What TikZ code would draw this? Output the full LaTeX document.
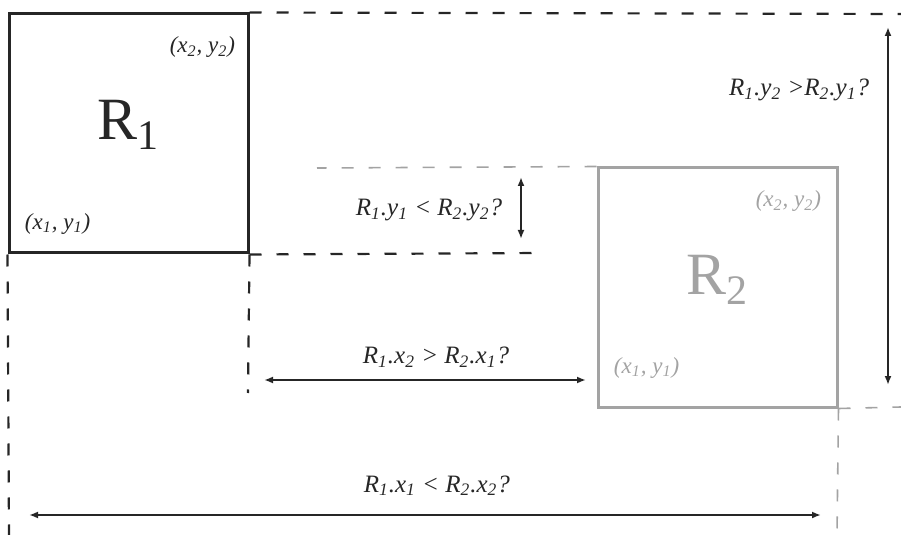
\documentclass[tikz,border=0pt]{standalone}
\usepackage{fontspec}
\setmainfont{Liberation Serif}
\usetikzlibrary{arrows.meta,positioning}
\definecolor{boxdark}{gray}{0.15}
\definecolor{boxlight}{gray}{0.64}
\newcommand\idx[1]{\textsubscript{#1}}
\begin{document}
\begin{tikzpicture}[x=0.5pt,y=-0.5pt,
    big/.style={inner sep=0pt,font=\fontsize{30}{32}\selectfont},
    corner/.style={inner sep=0pt,font=\fontsize{11.5}{13}\selectfont\itshape},
    cond/.style={inner sep=0pt,font=\fontsize{12.5}{14}\selectfont\itshape,text=boxdark},
    ext/.style={line width=1.1pt,dash pattern=on 6pt off 7.5pt},
    >={Latex[length=4.5pt,width=3.5pt]}]
  \useasboundingbox (0,0) rectangle (901,535);
  \begin{scope}[every node/.style={draw,line width=1.5pt,minimum size=119.5pt,inner sep=0pt}]
    \node[boxdark] (R1) at (128.5,133.5) {};
    \node[boxlight] (R2) at (717.5,287.5) {};
  \end{scope}
  \node[big,text=boxdark] (N1) at ([yshift=4.25pt]R1.center) {R\idx{1}};
  \node[big,text=boxlight] (N2) at ([yshift=3.75pt]R2.center) {R\idx{2}};
  \node[corner,text=boxdark] (P12) [below left=12pt and 7pt of R1.north east] {(x\idx{2}, y\idx{2})};
  \node[corner,text=boxdark] (P11) [above right=10pt and 8.5pt of R1.south west] {(x\idx{1}, y\idx{1})};
  \node[corner,text=boxlight] (P22) [below left=12pt and 8.5pt of R2.north east] {(x\idx{2}, y\idx{2})};
  \node[corner,text=boxlight] (P21) [above right=15pt and 8.5pt of R2.south west] {(x\idx{1}, y\idx{1})};

  \coordinate (e1) at (901,14);
  \coordinate (e2) at (542,253);
  \coordinate (e3) at (9,535);
  \coordinate (e4) at (248,393);
  \coordinate (e5) at (317,168);
  \coordinate (e6) at (901,407);
  \coordinate (e7) at (837,535);
  \begin{scope}[boxdark]
    \draw[ext] (R1.north east) -- (e1);
    \draw[ext] (R1.south east) -- (e2);
    \draw[ext] (R1.south west) -- (e3);
    \draw[ext] (R1.south east) -- (e4);
  \end{scope}
  \begin{scope}[boxlight]
    \draw[ext,line width=0.8pt] (R2.north west) -- (e5);
    \draw[ext,line width=0.8pt] (R2.south east) -- (e6);
    \draw[ext,line width=0.8pt] (R2.south east) -- (e7);
  \end{scope}

  \coordinate (a1) at (521,177);
  \coordinate (a2) at (521,239);
  \coordinate (b1) at (888,27);
  \coordinate (b2) at (888,385);
  \coordinate (c1) at (264,380);
  \coordinate (c2) at (586,380);
  \coordinate (d1) at (29,515);
  \coordinate (d2) at (821,515);
  \begin{scope}[every edge/.style={draw=boxdark,line width=1pt,<->}]
    \path (a1) edge node[cond,left=9pt,pos=.53] {R\idx{1}.y\idx{1} < R\idx{2}.y\idx{2}?} (a2);
    \path (b1) edge node[cond,left=9pt,pos=.176] {R\idx{1}.y\idx{2} >R\idx{2}.y\idx{1}?} (b2);
    \path (c1) edge node[cond,above=6pt,pos=.534] {R\idx{1}.x\idx{2} > R\idx{2}.x\idx{1}?} (c2);
    \path (d1) edge node[cond,above=9pt,pos=.515] {R\idx{1}.x\idx{1} < R\idx{2}.x\idx{2}?} (d2);
  \end{scope}
\end{tikzpicture}
\end{document}
